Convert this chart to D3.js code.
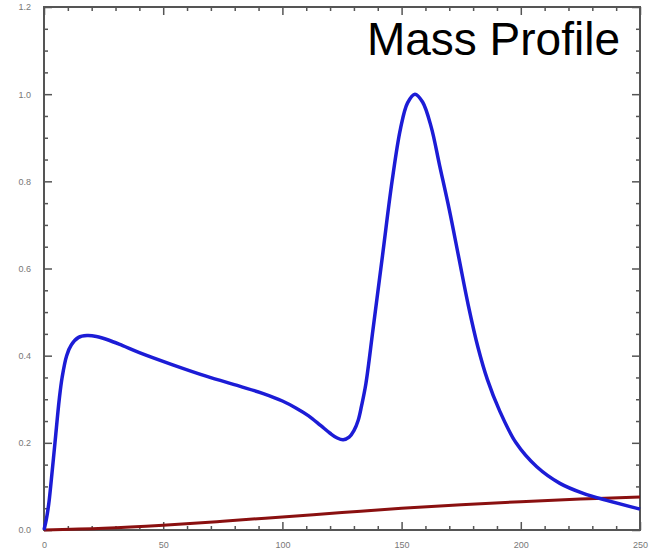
<!DOCTYPE html>
<html>
<head>
<meta charset="utf-8">
<script src="https://cdn.jsdelivr.net/npm/d3@7"></script>
<style>
  body { margin: 0; background: #fff; }
  text { font-family: "Liberation Sans", Arial, sans-serif; }
</style>
</head>
<body>
<svg id="chart" width="654" height="551"></svg>
<script>
// blue profile
var blueX = [0, 1, 2, 2.8, 4.6, 6.4, 7.6, 9.5, 11.5, 14.5, 18, 22, 27, 33, 40, 54, 68, 82, 92, 100, 106, 111, 116, 120, 123, 125.5, 128, 130,
  131.8, 133.2, 135, 138, 142, 146, 149.5, 152.5, 155.6, 158.8, 162.4, 166, 170, 174, 178, 182, 186, 191, 198, 206.7, 216.4, 226.2, 236, 250];
var blueY = [0, 0.025, 0.06, 0.1, 0.2, 0.3, 0.35, 0.4, 0.425, 0.442, 0.446, 0.444, 0.436, 0.423, 0.407, 0.379, 0.353, 0.33, 0.313, 0.296, 0.279, 0.262, 0.24, 0.222, 0.211, 0.207, 0.213, 0.228,
  0.252, 0.285, 0.335, 0.46, 0.63, 0.8, 0.92, 0.98, 1.0, 0.982, 0.925, 0.835, 0.735, 0.625, 0.515, 0.42, 0.345, 0.275, 0.2, 0.145, 0.107, 0.084, 0.068, 0.048];

// red profile
var redX = [0, 25, 50, 75, 100, 125, 150, 175, 200, 225, 250];
var redY = [0, 0.004, 0.011, 0.02, 0.03, 0.04, 0.05, 0.058, 0.065, 0.071, 0.076];

var xMajor = [0, 50, 100, 150, 200, 250];
var yMajor = [0, 0.2, 0.4, 0.6, 0.8, 1.0, 1.2];

var svg = d3.select("#chart"),
    pLeft = 44, pRight = 640, pTop = 7, pBottom = 530;

var x = d3.scaleLinear().domain([0, 250]).range([pLeft, pRight]);
var y = d3.scaleLinear().domain([0, 1.2]).range([pBottom, pTop]);

var xMinor = d3.range(0, 251, 10).filter(function(d) { return d % 50 != 0; });
var yMinor = d3.range(0, 25).map(function(i) { return i * 0.05; }).filter(function(d, i) { return i % 4 != 0; });

function styleAxis(g) {
  g.select(".domain").remove();
  g.selectAll("line").attr("stroke", "#555").attr("stroke-width", 1.5);
  g.selectAll("text").attr("fill", "#777").style("font-size", "9px");
}

// ticks point inward on all four sides
svg.append("g").attr("transform", "translate(0," + pBottom + ")")
  .call(d3.axisBottom(x).tickValues(xMajor).tickSize(-8).tickPadding(12).tickFormat(d3.format("d")))
  .call(styleAxis);
svg.append("g").attr("transform", "translate(0," + pBottom + ")")
  .call(d3.axisBottom(x).tickValues(xMinor).tickSize(-4).tickFormat(""))
  .call(styleAxis);
svg.append("g").attr("transform", "translate(0," + pTop + ")")
  .call(d3.axisTop(x).tickValues(xMajor).tickSize(-8).tickFormat(""))
  .call(styleAxis);
svg.append("g").attr("transform", "translate(0," + pTop + ")")
  .call(d3.axisTop(x).tickValues(xMinor).tickSize(-4).tickFormat(""))
  .call(styleAxis);

svg.append("g").attr("transform", "translate(" + pLeft + ",0)")
  .call(d3.axisLeft(y).tickValues(yMajor).tickSize(-8).tickPadding(13).tickFormat(d3.format(".1f")))
  .call(styleAxis);
svg.append("g").attr("transform", "translate(" + pLeft + ",0)")
  .call(d3.axisLeft(y).tickValues(yMinor).tickSize(-4).tickFormat(""))
  .call(styleAxis);
svg.append("g").attr("transform", "translate(" + pRight + ",0)")
  .call(d3.axisRight(y).tickValues(yMajor).tickSize(-8).tickFormat(""))
  .call(styleAxis);
svg.append("g").attr("transform", "translate(" + pRight + ",0)")
  .call(d3.axisRight(y).tickValues(yMinor).tickSize(-4).tickFormat(""))
  .call(styleAxis);

svg.append("rect")
  .attr("x", pLeft).attr("y", pTop)
  .attr("width", pRight - pLeft).attr("height", pBottom - pTop)
  .attr("fill", "none").attr("stroke", "#555").attr("stroke-width", 2);

var line = d3.line()
  .x(function(d) { return x(d[0]); })
  .y(function(d) { return y(d[1]); })
  .curve(d3.curveCatmullRom.alpha(0.5));

svg.append("path")
  .datum(d3.zip(redX, redY))
  .attr("d", line)
  .attr("fill", "none")
  .attr("stroke", "#8a1010")
  .attr("stroke-width", 3);

svg.append("path")
  .datum(d3.zip(blueX, blueY))
  .attr("d", line)
  .attr("fill", "none")
  .attr("stroke", "#1c1cd6")
  .attr("stroke-width", 3.5);

svg.append("text")
  .attr("x", 620).attr("y", 55)
  .attr("text-anchor", "end")
  .style("font-size", "46px")
  .attr("fill", "#000")
  .text("Mass Profile");
</script>
</body>
</html>
